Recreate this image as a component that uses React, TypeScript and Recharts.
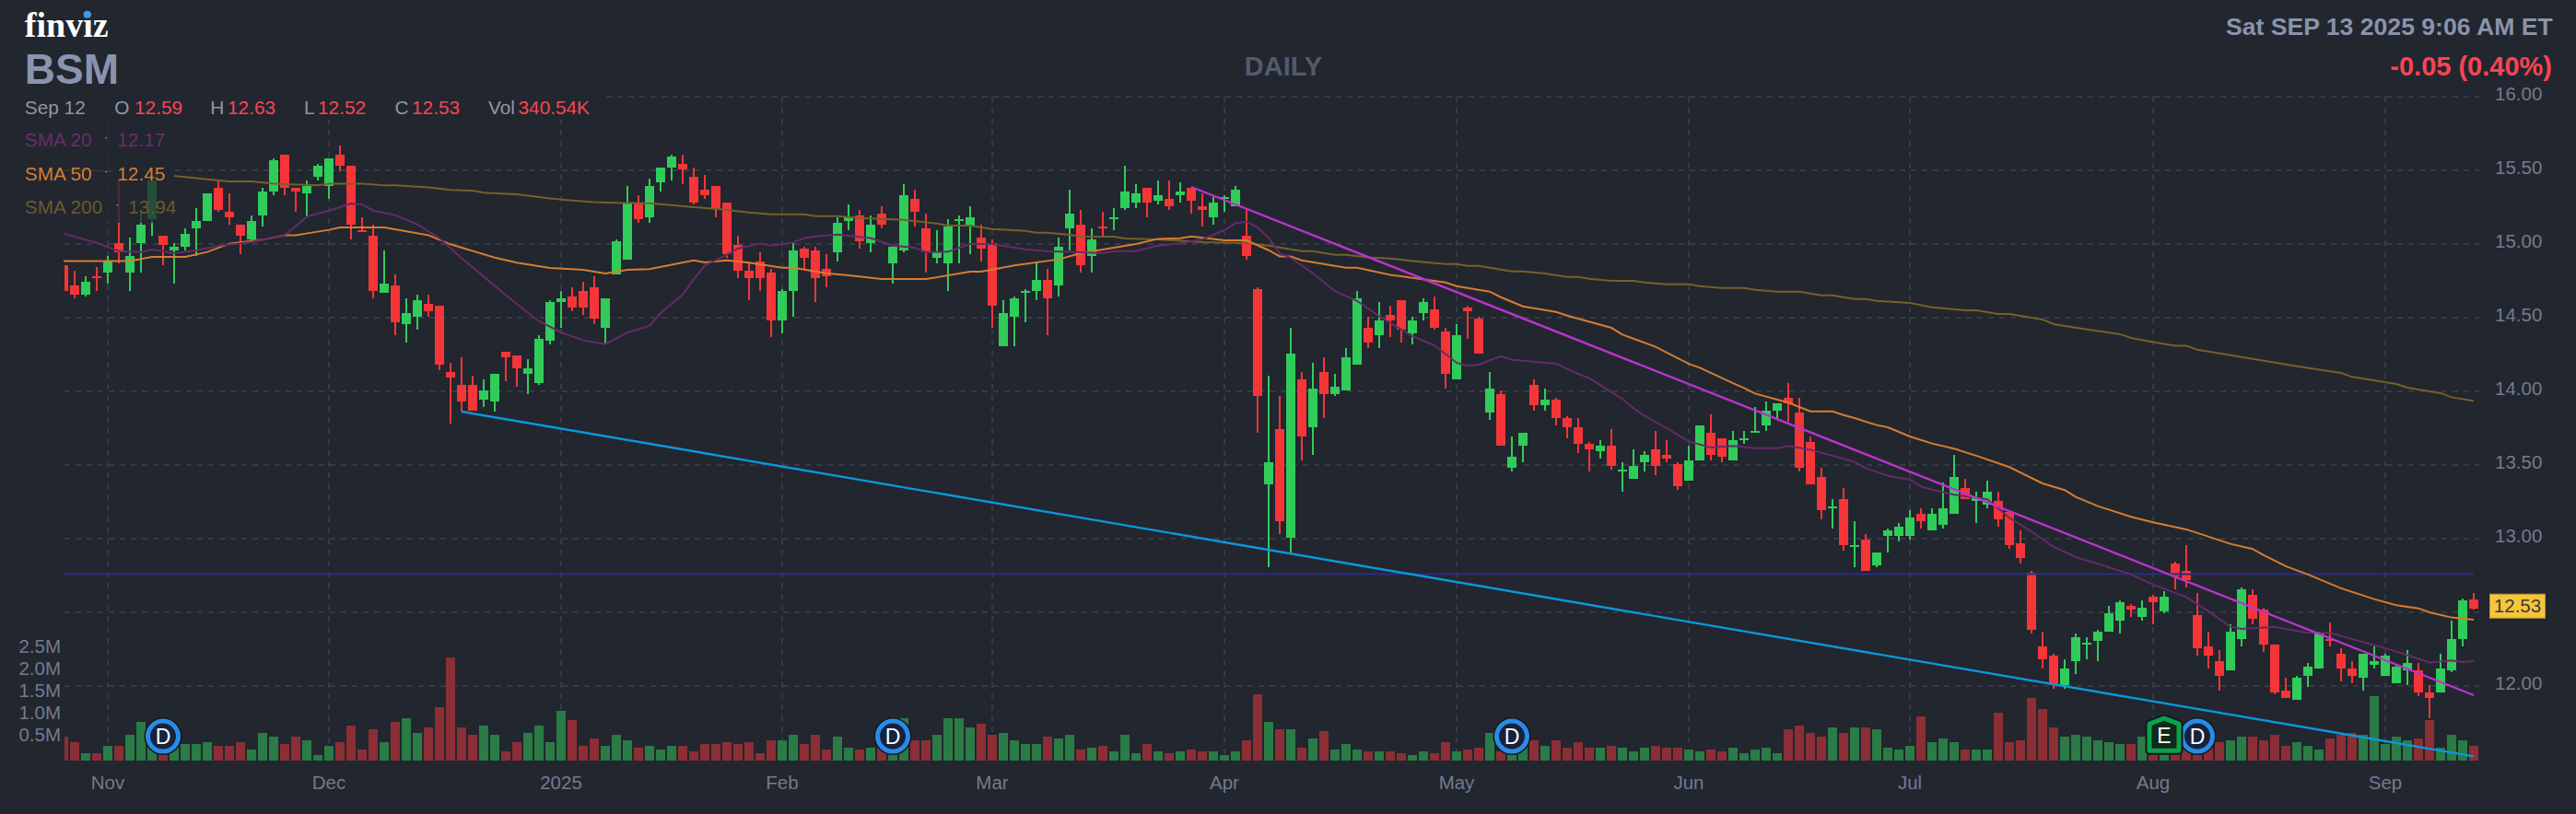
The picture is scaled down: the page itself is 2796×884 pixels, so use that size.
import { Bar, CartesianGrid, ComposedChart, Line, ReferenceDot, ReferenceLine, XAxis, YAxis } from "recharts";

// daily bars, oldest first
const opens = [
  14.854,14.717,14.654,14.779,14.804,15.004,14.804,15.004,15.167,15.054,
  14.954,14.979,15.104,15.154,15.379,15.217,15.129,15.029,15.192,15.354,
  15.604,15.379,15.342,15.454,15.392,15.604,15.529,15.092,15.054,14.667,
  14.717,14.454,14.504,14.592,14.579,14.129,14.042,14.042,13.942,13.929,
  14.267,14.242,14.117,14.054,14.342,14.604,14.642,14.679,14.704,14.429,
  14.792,14.892,15.279,15.181,15.419,15.519,15.544,15.456,15.369,15.394,
  15.281,14.994,14.819,14.881,14.806,14.481,14.681,14.969,14.956,14.831,
  14.944,15.156,15.194,15.006,15.206,14.869,14.956,15.306,15.106,14.906,
  14.869,15.156,15.119,15.044,15.006,14.306,14.506,14.669,14.681,14.756,
  14.719,15.106,15.131,14.919,15.119,15.169,15.244,15.281,15.381,15.294,
  15.306,15.331,15.381,15.256,15.181,15.306,15.256,15.056,14.694,13.369,
  13.744,13.006,14.081,13.756,14.131,13.981,14.006,14.181,14.431,14.381,
  14.519,14.619,14.394,14.531,14.556,14.406,14.081,14.569,14.494,13.856,
  13.981,13.481,13.631,14.044,13.906,13.944,13.819,13.756,13.644,13.594,
  13.631,13.456,13.406,13.519,13.606,13.569,13.506,13.394,13.531,13.719,
  13.681,13.531,13.669,13.719,13.769,13.869,13.956,13.856,13.656,13.419,
  13.206,13.269,12.944,12.994,12.819,13.019,13.019,13.019,13.169,13.056,
  13.092,13.167,13.342,13.254,13.229,13.254,13.179,12.967,12.767,12.267,
  12.204,12.004,12.167,12.279,12.304,12.367,12.442,12.542,12.467,12.604,
  12.504,12.829,12.779,12.479,12.267,12.167,12.104,12.317,12.617,12.517,
  12.279,11.967,11.904,12.067,12.117,12.317,12.217,12.117,12.054,12.142,
  12.067,12.017,12.104,12.104,11.954,11.954,12.104,12.317,12.59,
];
const highs = [
  14.854,14.817,14.779,14.842,14.917,15.467,15.042,15.217,15.46,15.054,
  15.004,15.104,15.242,15.342,15.429,15.342,15.129,15.192,15.379,15.579,
  15.604,15.379,15.429,15.542,15.579,15.667,15.529,15.179,15.129,14.954,
  14.792,14.629,14.654,14.654,14.579,14.192,14.229,14.104,14.079,14.117,
  14.267,14.242,14.217,14.379,14.617,14.679,14.704,14.742,14.779,14.629,
  15.029,15.392,15.329,15.444,15.519,15.606,15.606,15.519,15.469,15.394,
  15.281,15.056,14.869,14.944,14.831,14.694,15.006,14.981,14.981,14.931,
  15.181,15.269,15.231,15.194,15.256,14.994,15.406,15.369,15.206,15.094,
  15.169,15.194,15.256,15.131,15.031,14.619,14.644,14.694,14.881,14.831,
  15.044,15.369,15.231,15.106,15.219,15.244,15.531,15.406,15.381,15.431,
  15.431,15.419,15.381,15.344,15.319,15.331,15.394,15.231,14.706,14.106,
  13.969,14.431,14.131,14.194,14.231,14.119,14.294,14.681,14.506,14.606,
  14.581,14.619,14.506,14.631,14.644,14.431,14.456,14.581,14.506,14.131,
  14.006,13.694,13.719,14.081,14.019,13.956,13.831,13.819,13.656,13.669,
  13.744,13.519,13.606,13.594,13.731,13.669,13.519,13.631,13.769,13.844,
  13.681,13.731,13.731,13.894,13.931,13.919,14.056,13.956,13.694,13.481,
  13.269,13.344,13.119,13.031,12.906,13.069,13.106,13.194,13.206,13.206,
  13.379,13.567,13.404,13.317,13.392,13.317,13.192,13.054,12.779,12.367,
  12.217,12.179,12.354,12.329,12.379,12.542,12.579,12.554,12.579,12.617,
  12.642,12.842,12.954,12.629,12.367,12.242,12.417,12.667,12.654,12.529,
  12.279,12.054,12.067,12.154,12.367,12.429,12.254,12.167,12.217,12.267,
  12.217,12.142,12.242,12.154,12.004,12.217,12.442,12.592,12.63,
];
const lows = [
  14.679,14.629,14.642,14.679,14.729,14.867,14.679,14.804,15.054,14.854,
  14.729,14.954,14.917,15.154,15.217,15.129,14.929,15.017,15.117,15.329,
  15.329,15.217,15.179,15.429,15.304,15.492,15.029,15.079,14.629,14.667,
  14.379,14.329,14.417,14.504,14.142,13.781,13.862,13.867,13.89,13.858,
  14.067,14.029,13.979,14.042,14.317,14.429,14.542,14.517,14.454,14.317,
  14.792,14.892,15.142,15.144,15.356,15.431,15.406,15.269,15.306,15.181,
  14.906,14.769,14.619,14.681,14.369,14.394,14.506,14.831,14.606,14.706,
  14.881,15.094,14.969,14.944,15.106,14.731,14.944,15.119,14.806,14.869,
  14.681,14.869,14.931,14.881,14.431,14.306,14.306,14.469,14.619,14.381,
  14.644,14.956,14.806,14.806,15.044,15.094,15.231,15.244,15.181,15.269,
  15.231,15.281,15.206,15.119,15.131,15.219,15.256,14.894,13.719,12.806,
  13.031,12.906,13.531,13.569,13.819,13.969,14.006,14.181,14.294,14.294,
  14.369,14.331,14.319,14.481,14.419,14.019,14.081,14.356,14.256,13.806,
  13.631,13.456,13.519,13.869,13.869,13.769,13.681,13.581,13.456,13.544,
  13.469,13.319,13.406,13.456,13.431,13.519,13.331,13.394,13.531,13.531,
  13.519,13.531,13.644,13.719,13.731,13.806,13.794,13.456,13.369,13.131,
  13.069,12.919,12.806,12.781,12.806,12.906,12.981,12.994,13.069,13.056,
  13.067,13.167,13.267,13.104,13.204,13.079,12.929,12.829,12.354,12.117,
  11.979,11.979,12.079,12.179,12.167,12.367,12.354,12.467,12.442,12.417,
  12.492,12.654,12.667,12.204,12.117,11.967,12.104,12.267,12.417,12.229,
  11.942,11.917,11.904,11.992,12.117,12.267,12.029,12.017,11.967,12.117,
  12.067,12.017,12.004,11.929,11.779,11.954,12.092,12.267,12.52,
];
const closes = [
  14.679,14.654,14.742,14.767,14.879,14.942,14.917,15.129,15.429,14.992,
  14.979,15.067,15.154,15.342,15.229,15.179,15.054,15.154,15.354,15.567,
  15.379,15.354,15.392,15.529,15.579,15.529,15.129,15.079,14.679,14.729,
  14.467,14.529,14.617,14.542,14.179,14.092,13.929,13.867,14.004,14.117,
  14.229,14.154,14.154,14.354,14.604,14.629,14.567,14.567,14.492,14.629,
  15.017,15.279,15.167,15.394,15.519,15.594,15.506,15.281,15.331,15.244,
  14.931,14.819,14.769,14.769,14.481,14.681,14.956,14.906,14.769,14.781,
  15.144,15.181,15.019,15.131,15.131,14.981,15.331,15.219,14.944,14.944,
  15.119,15.169,15.181,14.969,14.581,14.531,14.631,14.681,14.756,14.631,
  14.981,15.206,14.856,15.031,15.106,15.181,15.356,15.344,15.281,15.331,
  15.256,15.356,15.294,15.231,15.281,15.319,15.369,14.919,13.969,13.519,
  13.119,14.256,13.694,14.019,13.981,14.031,14.231,14.631,14.331,14.481,
  14.481,14.419,14.481,14.606,14.431,14.119,14.381,14.544,14.256,14.019,
  13.631,13.556,13.719,13.906,13.944,13.819,13.756,13.644,13.606,13.631,
  13.494,13.469,13.494,13.569,13.494,13.544,13.356,13.531,13.769,13.569,
  13.556,13.669,13.681,13.731,13.869,13.919,13.919,13.481,13.369,13.194,
  13.219,12.956,12.956,12.781,12.906,13.056,13.081,13.144,13.119,13.169,
  13.204,13.417,13.267,13.279,13.317,13.129,12.954,12.867,12.379,12.179,
  12.004,12.117,12.329,12.292,12.367,12.492,12.567,12.517,12.529,12.567,
  12.604,12.742,12.717,12.254,12.204,12.067,12.367,12.654,12.454,12.279,
  11.954,11.917,12.054,12.129,12.354,12.304,12.117,12.067,12.217,12.167,
  12.204,12.129,12.154,11.954,11.917,12.117,12.317,12.579,12.53,
];
// volume in millions
const volumes = [
  .54,.42,.17,.17,.33,.33,.58,.88,.38,.29,
  .42,.38,.38,.42,.33,.33,.42,.25,.63,.54,
  .38,.54,.46,.13,.33,.42,.79,.25,.71,.42,
  .88,.96,.63,.75,1.21,2.33,.75,.58,.79,.58,
  .21,.42,.63,.79,.42,1.13,.92,.33,.5,.33,
  .58,.46,.29,.33,.25,.33,.33,.21,.38,.38,
  .42,.38,.42,.17,.46,.46,.58,.38,.58,.25,
  .54,.29,.25,.29,.29,.19,.96,.46,.46,.58,
  .96,.96,.75,.83,.58,.63,.46,.38,.38,.54,
  .5,.58,.25,.29,.33,.21,.58,.17,.38,.21,
  .17,.21,.25,.21,.21,.13,.21,.46,1.5,.88,
  .71,.71,.29,.5,.67,.25,.38,.25,.21,.21,
  .21,.17,.13,.21,.17,.42,.21,.25,.29,.63,
  .21,.21,.29,.46,.33,.46,.29,.42,.29,.29,
  .33,.29,.21,.29,.33,.29,.29,.25,.21,.25,
  .21,.29,.17,.25,.29,.17,.71,.79,.63,.54,
  .75,.63,.75,.75,.71,.29,.25,.33,1.0,.42,
  .5,.42,.25,.25,.25,1.08,.42,.46,1.42,1.17,
  .75,.54,.58,.54,.46,.42,.38,.38,.54,.29,
  .21,.21,.29,.21,.36,.42,.46,.54,.54,.46,
  .58,.33,.42,.33,.25,.5,.58,.63,.58,1.46,
  .38,.54,.46,.5,.92,.29,.58,.46,.34,
];

// moving averages: bar index, then value at that bar
const sma20Idx = [0,3,5,7,8,10,12,14,17,20,22,24,26,27,28,30,32,34,36,38,41,43,45,47,49,51,53,54,56,57,58,60,61,63,64,66,67,68,70,72,73,75,77,78,80,82,84,87,89,92,94,95,97,99,101,103,105,106,107,108,109,110,111,113,115,117,119,122,124,126,127,128,130,131,133,135,137,138,141,142,143,145,147,149,151,153,155,156,158,160,162,163,165,167,168,169,171,174,176,178,180,182,184,187,189,192,194,196,197,200,203,205,207,210,212,214,216,217,218];
const sma20Vals = [15.071,15.008,14.952,14.946,14.962,14.937,14.956,14.987,15.014,15.06,15.185,15.227,15.275,15.269,15.227,15.196,15.133,15.039,14.904,14.779,14.592,14.477,14.4,14.346,14.321,14.4,14.444,14.531,14.656,14.76,14.854,14.927,14.969,15.004,14.989,15.01,15.041,15.052,15.064,15.048,15.041,14.989,14.975,14.944,14.948,15.0,15.0,14.964,14.952,14.944,14.937,14.952,14.952,14.989,15.004,15.031,15.094,15.141,15.152,15.114,15.041,14.937,14.906,14.802,14.681,14.614,14.51,14.375,14.312,14.194,14.173,14.181,14.239,14.214,14.202,14.187,14.119,14.089,13.948,13.885,13.833,13.75,13.66,13.619,13.629,13.614,13.614,13.629,13.604,13.562,13.521,13.479,13.427,13.402,13.354,13.333,13.298,13.267,13.142,13.048,12.944,12.875,12.83,12.757,12.688,12.604,12.507,12.402,12.388,12.402,12.361,12.361,12.319,12.257,12.209,12.159,12.173,12.163,12.17];
const sma50Idx = [0,6,8,11,13,15,18,20,21,24,25,29,33,35,39,41,44,47,49,51,53,57,58,60,62,65,66,69,71,74,78,82,83,86,90,92,97,99,101,102,105,107,109,110,111,112,116,117,120,125,126,129,130,132,135,136,140,141,144,147,148,151,152,153,156,158,160,161,162,164,165,167,169,171,173,176,179,181,182,184,187,189,192,196,198,199,201,203,206,209,211,213,214,216,218];
const sma50Vals = [14.885,14.885,14.912,14.912,14.946,15.002,15.029,15.06,15.06,15.096,15.112,15.112,15.06,14.998,14.908,14.873,14.837,14.825,14.8,14.825,14.83,14.889,14.875,14.889,14.873,14.839,14.839,14.802,14.787,14.762,14.762,14.812,14.812,14.854,14.896,14.937,15.0,15.035,15.039,15.052,15.025,15.025,14.958,14.916,14.916,14.889,14.839,14.839,14.791,14.739,14.714,14.677,14.639,14.577,14.539,14.514,14.431,14.385,14.302,14.187,14.16,14.056,14.023,13.985,13.923,13.864,13.864,13.839,13.819,13.771,13.756,13.694,13.646,13.611,13.563,13.486,13.375,13.33,13.284,13.221,13.148,13.111,13.063,12.965,12.93,12.888,12.813,12.757,12.663,12.59,12.548,12.527,12.5,12.465,12.45];
const sma200Idx = [0,3,10,13,15,17,19,23,24,27,29,30,33,35,37,38,41,44,46,48,50,53,55,57,59,62,64,67,68,70,72,76,79,80,82,84,87,88,89,91,92,95,96,99,103,107,109,111,112,113,115,116,118,120,122,125,126,127,128,131,132,134,136,137,138,140,142,143,145,147,148,150,152,153,155,157,159,160,162,163,164,167,169,172,173,175,176,179,180,183,186,187,189,191,192,193,196,199,202,206,207,211,212,215,216,218];
const sma200Vals = [15.502,15.498,15.462,15.439,15.425,15.425,15.41,15.398,15.41,15.41,15.398,15.398,15.385,15.367,15.362,15.348,15.337,15.31,15.296,15.285,15.279,15.277,15.264,15.25,15.239,15.214,15.202,15.202,15.189,15.189,15.177,15.164,15.139,15.125,15.125,15.102,15.089,15.077,15.077,15.062,15.052,15.05,15.037,15.031,15.012,15.006,14.989,14.964,14.952,14.952,14.927,14.927,14.91,14.902,14.885,14.864,14.864,14.852,14.852,14.814,14.814,14.8,14.777,14.777,14.764,14.75,14.75,14.739,14.727,14.727,14.714,14.702,14.702,14.689,14.677,14.677,14.652,14.652,14.627,14.627,14.614,14.6,14.571,14.55,14.55,14.525,14.525,14.488,14.456,14.421,14.388,14.363,14.335,14.31,14.31,14.283,14.246,14.208,14.171,14.125,14.098,14.05,14.025,13.988,13.96,13.935];

// hand-drawn lines on the chart: [bar index, price]
const lowerTrend = [[36, 13.8625], [218, 11.523]];
const upperTrend = [[102, 15.3875], [218, 11.9375]];
const priorCloseLine = [[0, 12.76], [218, 12.76]];

const monthTicks = [4, 24, 45, 65, 84, 105, 126, 147, 167, 189, 210];
const monthLabels = ["Nov", "Dec", "2025", "Feb", "Mar", "Apr", "May", "Jun", "Jul", "Aug", "Sep"];
const priceTicks = [12, 12.5, 13, 13.5, 14, 14.5, 15, 15.5, 16];
const volumeTicks = [0.5, 1, 1.5, 2, 2.5];
const dividendBars = [9, 75, 131, 193];
const earningsBars = [190];
const lastClose = 12.53;

const table = opens.map((o, i) => {
  const at = (idx: number[], vals: number[]) => (idx.includes(i) ? vals[idx.indexOf(i)] : undefined);
  return {
    i,
    o,
    h: highs[i],
    l: lows[i],
    c: closes[i],
    v: volumes[i],
    sma20: at(sma20Idx, sma20Vals),
    sma50: at(sma50Idx, sma50Vals),
    sma200: at(sma200Idx, sma200Vals),
  };
});

const BG = "#22262f";
const UP = "#30cc5a";
const DOWN = "#f63538";
const GRID = "#363a45";
const AXIS_TEXT = "#737b8d";
const FONT = '"Liberation Sans", Arial, sans-serif';

// the bar comes in spanning low..high; the body is placed inside that span
const Candle = (p: any) => {
  const { x, y, width, height, payload } = p;
  const { o, h, l, c } = payload;
  const pxPerUnit = h > l ? height / (h - l) : 0;
  const top = Math.round(y + (h - Math.max(o, c)) * pxPerUnit);
  const bodyH = Math.max(Math.round(Math.abs(o - c) * pxPerUnit), 2);
  const color = c > o ? UP : DOWN;
  const left = Math.round(x);
  return (
    <g clipPath="url(#plotClip)">
      <rect x={left + width / 2 - 1} y={Math.round(y)} width={2} height={Math.round(height)} fill={color} />
      <rect x={left} y={top} width={width} height={bodyH} fill={color} />
    </g>
  );
};

const VolumeBar = (p: any) => {
  const { x, y, width, height, payload } = p;
  return (
    <g clipPath="url(#plotClip)">
      <rect
        x={Math.round(x)}
        y={Math.round(y)}
        width={width}
        height={Math.round(height)}
        fill={payload.c > payload.o ? "#2a7b46" : "#8c2e35"}
      />
    </g>
  );
};

const PriceTick = ({ x, y, payload }: any) => (
  <text x={x + 9} y={y + 4} fill={AXIS_TEXT} fontSize={20.5} fontFamily={FONT}>
    {payload.value === 12.5 ? "" : payload.value.toFixed(2)}
  </text>
);

const VolumeTick = ({ x, y, payload }: any) => (
  <text x={x + 11} y={y + 3.5} textAnchor="end" fill={AXIS_TEXT} fontSize={20.5} fontFamily={FONT}>
    {payload.value.toFixed(1)}M
  </text>
);

const MonthTick = ({ x, payload }: any) => (
  <text x={x} y={857} textAnchor="middle" fill={AXIS_TEXT} fontSize={20.5} fontFamily={FONT}>
    {monthLabels[monthTicks.indexOf(payload.value)]}
  </text>
);

const DividendBadge = ({ cx, cy }: any) => (
  <g>
    <circle cx={cx} cy={cy} r={20.5} fill="#14171d" />
    <circle cx={cx} cy={cy} r={16.5} fill="#16233f" stroke="#2a8be6" strokeWidth={5} />
    <text x={cx} y={cy + 8} textAnchor="middle" fill="#fff" fontSize={23} fontFamily={FONT}>D</text>
  </g>
);

const EarningsBadge = ({ cx, cy }: any) => (
  <g>
    <path
      d={`M${cx - 16} ${cy - 12} L${cx} ${cy - 18} L${cx + 16} ${cy - 12} V${cy + 17} H${cx - 16} Z`}
      fill="#10291c"
      stroke="#14171d"
      strokeWidth={9}
      strokeLinejoin="round"
    />
    <path
      d={`M${cx - 16} ${cy - 12} L${cx} ${cy - 18} L${cx + 16} ${cy - 12} V${cy + 17} H${cx - 16} Z`}
      fill="#10291c"
      stroke="#0aa14a"
      strokeWidth={5}
      strokeLinejoin="round"
    />
    <text x={cx} y={cy + 9} textAnchor="middle" fill="#fff" fontSize={23} fontFamily={FONT}>E</text>
  </g>
);

const LastPriceTag = ({ cx, cy }: any) => (
  <g>
    <rect x={cx + 17.5} y={cy - 15} width={60} height={26} fill="#f5c63c" stroke="#b8952f" />
    <text x={cx + 47.5} y={cy + 5} textAnchor="middle" fill="#3c3c38" fontSize={20.5} fontFamily={FONT}>
      {lastClose.toFixed(2)}
    </text>
  </g>
);

const segment = (pts: number[][]) => pts.map(([x, y]) => ({ x, y }));

export default function App() {
  return (
    <div style={{ position: "absolute", left: 0, top: 0, width: 2796, height: 884, background: BG, overflow: "hidden" }}>
      <ComposedChart
        width={2796}
        height={884}
        data={table}
        margin={{ top: 105, right: 0, bottom: 0, left: 0 }}
        barCategoryGap={0}
      >
        <defs>
          <clipPath id="plotClip">
            <rect x={70} y={0} width={2621} height={884} />
          </clipPath>
        </defs>
        <XAxis
          xAxisId="x"
          dataKey="i"
          ticks={monthTicks}
          interval={0}
          height={58}
          tick={<MonthTick />}
          tickLine={false}
          axisLine={false}
        />
        <XAxis xAxisId="vol" dataKey="i" hide />
        <YAxis
          yAxisId="price"
          orientation="right"
          domain={[11.49375, 16]}
          ticks={priceTicks}
          interval={0}
          width={105}
          tick={<PriceTick />}
          tickLine={false}
          axisLine={false}
          allowDataOverflow
        />
        <YAxis
          yAxisId="volume"
          orientation="left"
          domain={[0, 15.02]}
          ticks={volumeTicks}
          interval={0}
          width={63}
          tick={<VolumeTick />}
          tickLine={false}
          axisLine={false}
          allowDataOverflow
        />
        <CartesianGrid
          xAxisId="x"
          yAxisId="price"
          x={70}
          width={2621}
          syncWithTicks
          stroke={GRID}
          strokeWidth={2}
          strokeDasharray="6 6"
        />
        <Bar xAxisId="vol" yAxisId="volume" dataKey="v" barSize={10} shape={<VolumeBar />} isAnimationActive={false} />
        <Bar
          xAxisId="x"
          yAxisId="price"
          dataKey={(d: any) => [d.l, d.h]}
          barSize={10}
          shape={<Candle />}
          isAnimationActive={false}
        />
        <ReferenceLine xAxisId="x" yAxisId="price" segment={segment(priorCloseLine)} stroke="#2b2d7c" strokeWidth={2} />
        <Line xAxisId="x" yAxisId="price" dataKey="sma200" stroke="#74602a" strokeWidth={2} dot={false} connectNulls isAnimationActive={false} />
        <Line xAxisId="x" yAxisId="price" dataKey="sma50" stroke="#d67d30" strokeWidth={2} dot={false} connectNulls isAnimationActive={false} />
        <Line xAxisId="x" yAxisId="price" dataKey="sma20" stroke="#652b68" strokeWidth={2} dot={false} connectNulls isAnimationActive={false} />
        <ReferenceLine xAxisId="x" yAxisId="price" segment={segment(lowerTrend)} stroke="#0a98dc" strokeWidth={2.4} />
        <ReferenceLine xAxisId="x" yAxisId="price" segment={segment(upperTrend)} stroke="#bb33cc" strokeWidth={2.4} />
        {dividendBars.map((b) => (
          <ReferenceDot key={b} xAxisId="x" yAxisId="volume" x={b} y={0.55} ifOverflow="visible" shape={<DividendBadge />} />
        ))}
        {earningsBars.map((b) => (
          <ReferenceDot key={b} xAxisId="x" yAxisId="volume" x={b} y={0.58} ifOverflow="visible" shape={<EarningsBadge />} />
        ))}
        <ReferenceDot xAxisId="x" yAxisId="price" x={218} y={lastClose} ifOverflow="visible" shape={<LastPriceTag />} />
      </ComposedChart>

      {/* header and legend sit over the plot, with a translucent panel like the original */}
      <svg width={2796} height={884} style={{ position: "absolute", left: 0, top: 0, pointerEvents: "none" }} fontFamily={FONT}>
        <rect x={20} y={100} width={632} height={30} fill={BG} />
        <rect x={20} y={130} width={168.5} height={112} fill={BG} fillOpacity={0.76} />
        <rect x={123} y={178} width={65.5} height={18} fill={BG} />
        <text x={26.8} y={40} fontFamily='"Liberation Serif", serif' fontWeight={700} fontSize={38} fill="#fff">finviz</text>
        <circle cx={94.6} cy={15.7} r={4} fill="#3a9bef" />
        <text x={26.8} y={90.7} fontWeight={700} fontSize={46} fill="#8a94ad">BSM</text>
        <text x={1393} y={82} textAnchor="middle" fontWeight={700} fontSize={29} fill="#535a6b">DAILY</text>
        <text x={2770.7} y={38.3} textAnchor="end" fontWeight={700} fontSize={26.6} fill="#8a93ab">Sat SEP 13 2025 9:06 AM ET</text>
        <text x={2770} y={81.7} textAnchor="end" fontWeight={700} fontSize={29} fill="#f94552">-0.05 (0.40%)</text>

        <g fontSize={20.8}>
          <text x={26.8} y={123.5} fill="#9097a6">Sep 12</text>
          <text x={124.3} y={123.5} fill="#9097a6">O</text>
          <text x={146} y={123.5} fill="#f94552">12.59</text>
          <text x={228.3} y={123.5} fill="#9097a6">H</text>
          <text x={247} y={123.5} fill="#f94552">12.63</text>
          <text x={330} y={123.5} fill="#9097a6">L</text>
          <text x={345} y={123.5} fill="#f94552">12.52</text>
          <text x={428.6} y={123.5} fill="#9097a6">C</text>
          <text x={447} y={123.5} fill="#f94552">12.53</text>
          <text x={530} y={123.5} fill="#9097a6">Vol</text>
          <text x={562.5} y={123.5} fill="#f94552">340.54K</text>

          <text x={26.8} y={159.3} fill="#6b2c6c">SMA 20</text>
          <text x={113.3} y={153} fill="#b4b8c2" fontSize={12}>·</text>
          <text x={127.3} y={159.3} fill="#6b2c6c">12.17</text>
          <text x={26.8} y={195.7} fill="#d67d30">SMA 50</text>
          <text x={113.3} y={190} fill="#b4b8c2" fontSize={12}>·</text>
          <text x={127.3} y={195.7} fill="#d67d30">12.45</text>
          <text x={26.8} y={231.7} fill="#69592e">SMA 200</text>
          <text x={125.3} y={226} fill="#b4b8c2" fontSize={12}>·</text>
          <text x={139.3} y={231.7} fill="#69592e">13.94</text>
        </g>
      </svg>
    </div>
  );
}
